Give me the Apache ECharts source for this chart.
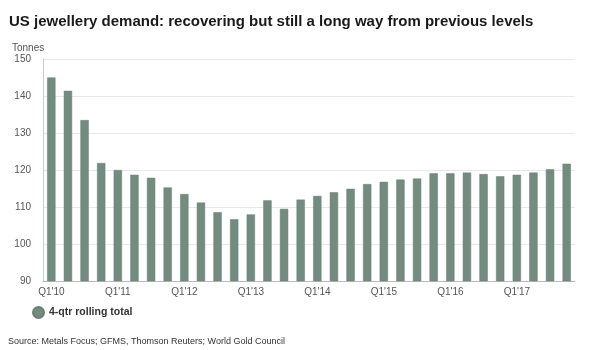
<!DOCTYPE html>
<html>
<head>
<meta charset="utf-8">
<script src="https://cdn.jsdelivr.net/npm/echarts@6/dist/echarts.min.js"></script>
<style>
  html, body { margin: 0; padding: 0; background: #fff; }
  #main { width: 600px; height: 350px; }
</style>
</head>
<body>
<div id="main"></div>
<script>
// 季度标签
var categories = [
    "Q1'10", "Q2'10", "Q3'10", "Q4'10",
    "Q1'11", "Q2'11", "Q3'11", "Q4'11",
    "Q1'12", "Q2'12", "Q3'12", "Q4'12",
    "Q1'13", "Q2'13", "Q3'13", "Q4'13",
    "Q1'14", "Q2'14", "Q3'14", "Q4'14",
    "Q1'15", "Q2'15", "Q3'15", "Q4'15",
    "Q1'16", "Q2'16", "Q3'16", "Q4'16",
    "Q1'17", "Q2'17", "Q3'17", "Q4'17"
];
// 4季度滚动总量 (吨)
var rollingTotal = [
    145.0, 141.4, 133.5, 121.9,
    120.0, 118.7, 117.9, 115.3,
    113.5, 111.2, 108.6, 106.7,
    108.0, 111.8, 109.5, 112.0,
    113.0, 114.0, 114.9, 116.2,
    116.8, 117.4, 117.7, 119.1,
    119.1, 119.3, 118.9, 118.3,
    118.7, 119.3, 120.2, 121.7
];
var yTicks = [90, 100, 110, 120, 130, 140, 150];

var myChart = echarts.init(document.getElementById('main'));

var option = {
    animation: false,
    textStyle: { fontFamily: 'Liberation Sans, Arial, sans-serif' },
    title: [{
        text: 'US jewellery demand: recovering but still a long way from previous levels',
        left: 4,
        top: 9,
        textStyle: { fontSize: 15, fontWeight: 'bold', color: '#1a1a1a' }
    }, {
        text: 'Source: Metals Focus; GFMS, Thomson Reuters; World Gold Council',
        left: 3,
        top: 332,
        textStyle: { fontSize: 9, fontWeight: 'normal', color: '#333' }
    }],
    legend: {
        data: ['4-qtr rolling total'],
        left: 27,
        top: 301,
        icon: 'circle',
        itemWidth: 11,
        itemHeight: 11,
        textStyle: { fontSize: 10.5, fontWeight: 'bold', color: '#333' }
    },
    grid: { left: 43, right: 25, top: 59, bottom: 69 },
    xAxis: {
        type: 'category',
        data: categories,
        axisLine: { lineStyle: { color: '#bbb' } },
        axisTick: { show: false },
        axisLabel: { interval: 3, fontSize: 10, color: '#555', margin: 6 }
    },
    yAxis: {
        type: 'value',
        name: 'Tonnes',
        nameLocation: 'end',
        nameGap: 6,
        nameTextStyle: { fontSize: 10, color: '#555', align: 'left', padding: [0, 0, 0, -31] },
        min: yTicks[0],
        max: yTicks[yTicks.length - 1],
        interval: 10,
        axisLine: { show: true, lineStyle: { color: '#ccc' } },
        axisTick: { show: false },
        axisLabel: { fontSize: 10, color: '#555', margin: 12 },
        splitLine: { lineStyle: { color: '#e8e8e8' } }
    },
    series: [{
        name: '4-qtr rolling total',
        type: 'bar',
        data: rollingTotal,
        barWidth: '50%',
        itemStyle: { color: '#748b7f', borderColor: '#6a8175', borderWidth: 0.5 }
    }]
};
myChart.setOption(option);
</script>
</body>
</html>
